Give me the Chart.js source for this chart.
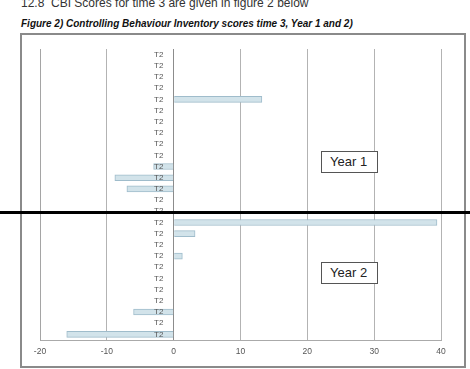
<!DOCTYPE html>
<html>
<head>
<meta charset="utf-8">
<script src="https://cdn.jsdelivr.net/npm/chart.js@4.4.0/dist/chart.umd.min.js"></script>
<style>
    html, body { margin: 0; padding: 0; background: #fff; }
    body { width: 470px; height: 369px; position: relative; overflow: hidden; font-family: Arial, "Liberation Sans", sans-serif; }
    #head { position: absolute; left: 21px; top: -4px; font-size: 12px; color: #333; white-space: nowrap; }
    #cap { position: absolute; left: 21px; top: 18px; font-size: 10px; font-weight: bold; font-style: italic; color: #111; white-space: nowrap; }
    #frame { position: absolute; left: 20px; top: 33px; width: 442px; height: 331px; border: 2px solid #8a8a8a; }
    #wrap { position: absolute; left: 0; top: 0; width: 470px; height: 369px; }
    #split { position: absolute; left: 0; top: 211px; width: 470px; height: 3px; background: #000; }
    .yr { position: absolute; width: 55px; height: 20px; border: 1px solid #555; background: #fff; font-size: 13px; color: #222; line-height: 20px; box-sizing: content-box; }
    .yr span { padding-left: 8px; }
</style>
</head>
<body>
<div id="head">12.8&nbsp; CBI Scores for time 3 are given in figure 2 below</div>
<div id="cap">Figure 2) Controlling Behaviour Inventory scores time 3, Year 1 and 2)</div>
<div id="frame"></div>
<div id="wrap"><canvas id="cbiChart" width="470" height="369"></canvas></div>
<div id="split"></div>
<div class="yr" style="left:321px; top:151px;"><span>Year 1</span></div>
<div class="yr" style="left:321px; top:262px;"><span>Year 2</span></div>

<script>
// rows top to bottom, every label reads "T2"
const categories = ['T2', 'T2', 'T2', 'T2', 'T2', 'T2', 'T2', 'T2', 'T2', 'T2', 'T2', 'T2', 'T2',
                    'T2', 'T2', 'T2', 'T2', 'T2', 'T2', 'T2', 'T2', 'T2', 'T2', 'T2', 'T2', 'T2'];
const scores = [0, 0, 0, 0, 13.2, 0, 0, 0, 0, 0, -3, -8.8, -7,
                0, 0, 39.4, 3.2, 0, 1.3, 0, 0, 0, 0, -6, 0, -16];
const xTicks = [-20, -10, 0, 10, 20, 30, 40];

document.addEventListener('DOMContentLoaded', () => {
    const ctx = document.getElementById('cbiChart').getContext('2d');

    new Chart(ctx, {
        type: 'bar',
        data: {
            labels: categories,
            datasets: [{
                data: scores,
                backgroundColor: '#d2e3ea',
                borderColor: '#9fbccb',
                borderWidth: 1,
                barThickness: 6
            }]
        },
        options: {
            indexAxis: 'y',
            responsive: false,
            animation: false,
            layout: {
                autoPadding: false,
                padding: { left: 40, right: 29, top: 49, bottom: 0 }
            },
            plugins: {
                legend: { display: false },
                tooltip: { enabled: false }
            },
            scales: {
                x: {
                    min: xTicks[0],
                    max: xTicks[xTicks.length - 1],
                    afterBuildTicks: (s) => { s.ticks = xTicks.map(v => ({ value: v })); },
                    afterFit: (s) => { s.height = 29; },
                    grid: {
                        drawTicks: false,
                        color: (c) => c.tick && c.tick.value === 0 ? '#8c8c8c' : '#b3b3b3'
                    },
                    border: { color: '#aaaaaa' },
                    ticks: {
                        padding: 7,
                        color: '#555',
                        font: { family: 'Arial', size: 8.5 }
                    }
                },
                y: {
                    afterFit: (s) => {
                        s.width = 0;
                        s.paddingTop = 0;
                        s.paddingBottom = 0;
                    },
                    grid: { display: false, drawTicks: false },
                    border: { color: '#a5a5a5' },
                    ticks: {
                        z: 1, // labels sit on top of the bars
                        autoSkip: false,
                        mirror: true,
                        padding: 114,
                        color: '#555',
                        font: { family: 'Arial', size: 8 }
                    }
                }
            }
        }
    });
});
</script>
</body>
</html>
